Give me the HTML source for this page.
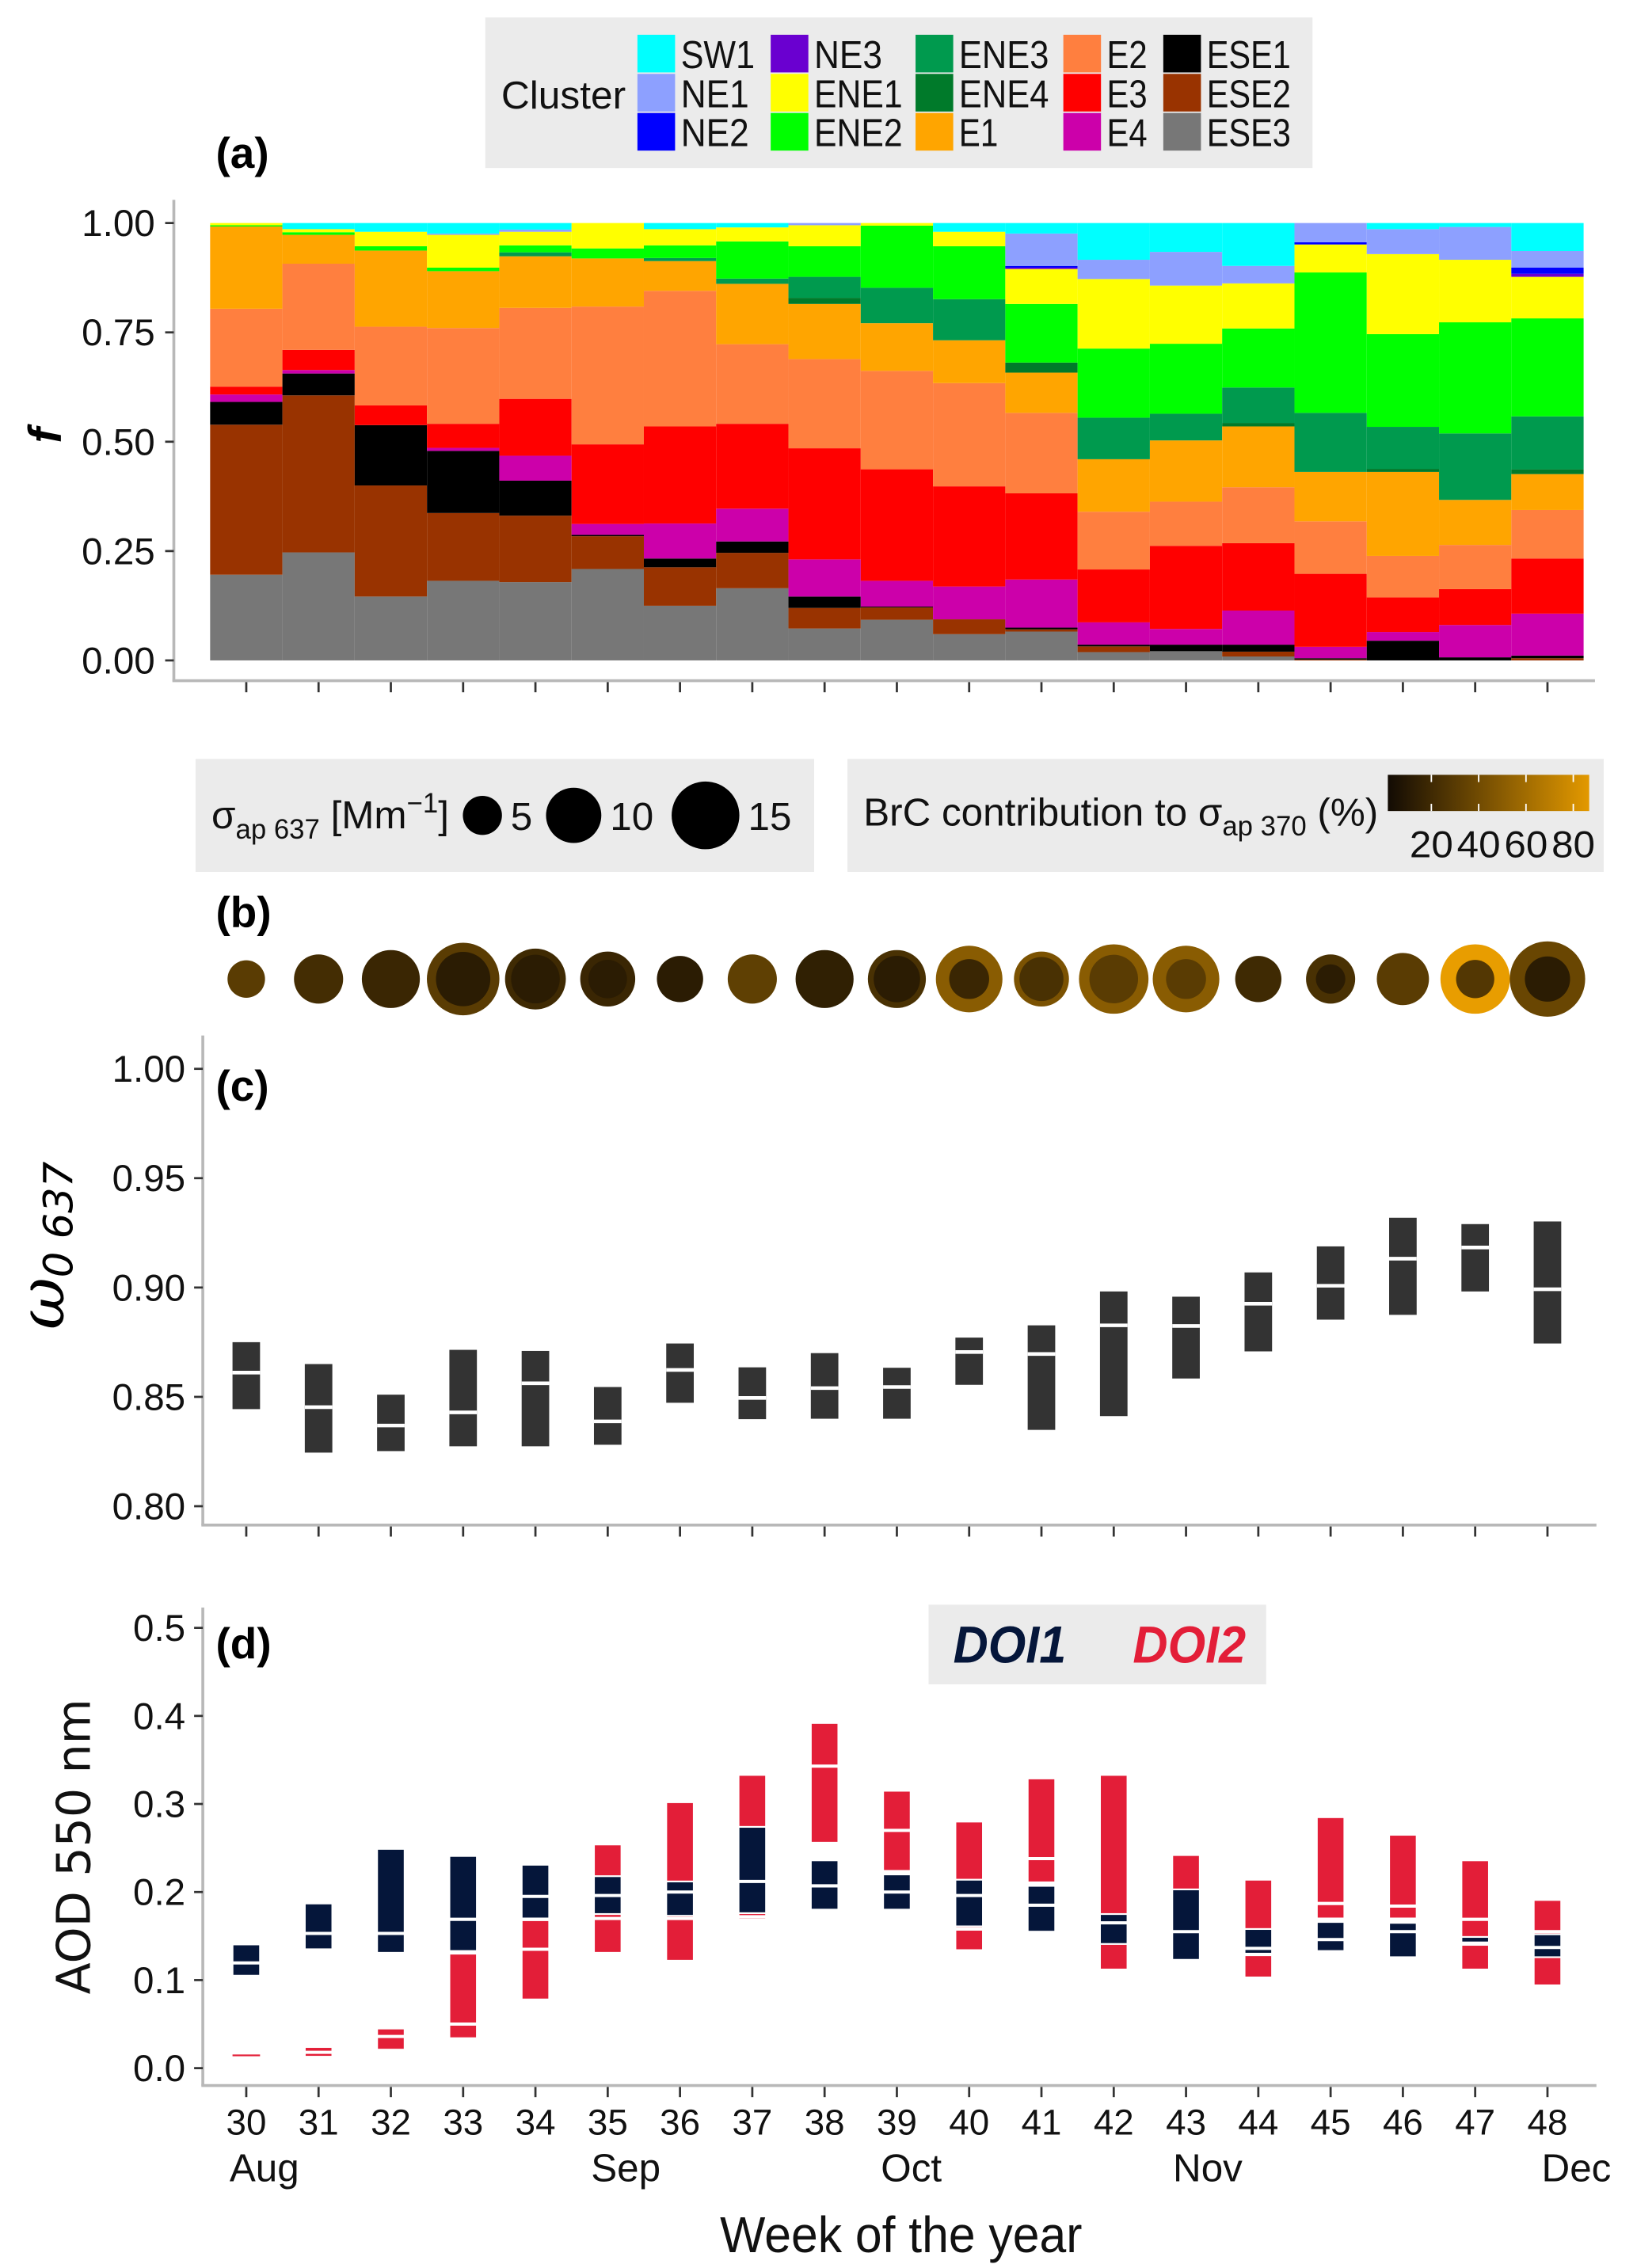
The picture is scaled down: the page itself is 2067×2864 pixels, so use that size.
<!DOCTYPE html>
<html><head><meta charset="utf-8"><title>Weekly cluster fractions, BrC, SSA, AOD</title>
<style>
html,body{margin:0;padding:0;background:#fff;}
svg{display:block;font-family:"Liberation Sans Narrow","Liberation Sans",sans-serif;}
</style></head>
<body>
<svg id="fig" width="2067" height="2864" viewBox="0 0 1130 1566" preserveAspectRatio="none" xmlns="http://www.w3.org/2000/svg">
<rect x="0" y="0" width="1130" height="1566" fill="#fff"/>
<g id="pa"></g>
<g id="pb"></g>
<g id="pc"></g>
<g id="pd"></g>
</svg>
<script>
// ---------- shared data ----------
const weeks = [30,31,32,33,34,35,36,37,38,39,40,41,42,43,44,45,46,47,48];
// ---------- panel a data (fractions per cluster, bottom to top) ----------
const clusterNames = ["ESE3","ESE2","ESE1","E4","E3","E2","E1","ENE4","ENE3","ENE2","ENE1","NE3","NE2","NE1","SW1"];
const clusterColors = ["#777777","#993300","#000000","#CC00AA","#FF0000","#FF7F3F","#FFA500","#007A2A","#009A4E","#00FF00","#FFFF00","#6A00D0","#0000FF","#8DA0FF","#00FFFF"];
const fESE3 = [.196,.247,.146,.182,.179,.209,.125,.165,.073,.093,.060,.066,.019,.021,.009,0,0,0,0];
const fESE2 = [.343,.359,.254,.155,.152,.075,.088,.081,.047,.028,.034,.005,.013,0,.011,.002,0,0,.005];
const fESE1 = [.052,.050,.138,.142,.080,.003,.020,.026,.026,.002,0,.004,.004,.015,.016,.003,.045,.007,.006];
const fE4 = [.017,.008,0,.007,.057,.025,.080,.075,.085,.059,.075,.110,.051,.036,.078,.026,.020,.074,.096];
const fE3 = [.018,.046,.045,.055,.130,.182,.222,.194,.254,.255,.229,.197,.121,.190,.154,.167,.079,.082,.126];
const fE2 = [.178,.197,.180,.219,.208,.315,.310,.182,.204,.225,.236,.184,.132,.101,.128,.120,.095,.101,.111];
const fE1 = [.188,.066,.174,.130,.118,.110,.068,.138,.126,.109,.098,.092,.120,.140,.139,.113,.192,.103,.082];
const fENE4 = [0,0,0,0,0,0,0,0,.014,0,0,.023,0,0,.008,0,.007,0,.011];
const fENE3 = [0,0,0,0,.009,0,.007,.012,.048,.081,.094,0,.095,.061,.081,.135,.096,.152,.121];
const fENE2 = [.003,.006,.010,.008,.016,.023,.029,.085,.070,.142,.121,.134,.158,.160,.135,.321,.212,.254,.224];
const fENE1 = [.005,.007,.033,.075,.031,.058,.037,.032,.048,.006,.033,.080,.159,.133,.103,.064,.183,.143,.095];
const fNE3 = [0,0,0,0,0,0,0,0,0,0,0,.003,0,0,0,0,0,0,.007];
const fNE2 = [0,0,0,0,0,0,0,0,0,0,0,.004,0,0,0,.005,0,0,.014];
const fNE1 = [0,0,0,.003,.005,0,0,0,.005,0,0,.074,.044,.077,.040,.044,.057,.075,.038];
const fSW1 = [0,.014,.020,.024,.015,0,.014,.010,0,0,.020,.024,.084,.066,.098,0,.014,.009,.064];
const aTicks = [0,0.25,0.5,0.75,1];
const aTickLabels = ["0.00","0.25","0.50","0.75","1.00"];
// ---------- panel b data ----------
const sigmaAp = [4.6,7.9,11,17.2,12.1,9.9,7,7.9,11,11,14.5,9.9,15.8,14.5,7,7.9,8.9,15.8,18.6];
const brcOuter = [31,22,18,31,20,18,12,33,14,24,50,44,50,50,20,24,31,88,37];
const brcInner = [31,22,18,12,12,12,12,33,14,12,18,24,31,31,20,12,31,28,12];
const innerFrac = [0,0,0,.75,.8,.7,0,0,.85,.8,.6,.8,.7,.6,0,.6,0,.55,.6];
const sizeLegendVals = [5,10,15];
const brcTickVals = [20,40,60,80];
// ---------- panel c data ----------
const ssaTop = [.875,.865,.851,.8715,.871,.8545,.8744,.8635,.870,.8633,.8771,.8827,.8982,.8958,.9069,.9188,.9319,.929,.9302];
const ssaMed = [.8611,.8453,.8369,.8429,.8562,.8388,.8623,.8495,.854,.8545,.8705,.8696,.8827,.8824,.8926,.9008,.9132,.9183,.8992];
const ssaBot = [.8444,.8245,.8252,.8274,.8274,.8281,.8473,.8398,.840,.840,.8555,.8349,.8412,.8584,.8708,.8853,.8875,.8982,.8744];
const cTicks = [0.80,0.85,0.90,0.95,1.00];
const cTickLabels = ["0.80","0.85","0.90","0.95","1.00"];
// ---------- panel d data ----------
const doi1Top = [.1405,.187,.249,.241,.231,.218,.212,.274,.236,.220,.214,.207,.175,.203,.158,.166,.165,.149,.152];
const doi1Med = [.1195,.153,.153,.169,.195,.196,.200,.212,.207,.200,.196,.185,.165,.155,.136,.146,.155,.142,.137];
const doi1Bot = [.105,.135,.131,.133,.170,.175,.173,.176,.180,.180,.161,.155,.141,.123,.130,.133,.126,.140,.126];
const doi2Top = [.0155,.024,.045,.130,.168,.254,.302,.333,.392,.315,.280,.329,.333,.242,.214,.285,.265,.236,.191];
const doi2Med = [.0147,.018,.036,.050,.135,.170,.170,.172,.343,.270,.158,.238,.160,.180,.129,.187,.184,.169,.155];
const doi2Bot = [.014,.013,.021,.034,.078,.131,.122,.169,.256,.224,.134,.211,.112,.180,.103,.170,.170,.112,.094];
const dTicks = [0,0.1,0.2,0.3,0.4,0.5];
const dTickLabels = ["0.0","0.1","0.2","0.3","0.4","0.5"];
const monthLabels = ["Aug","Sep","Oct","Nov","Dec"];
const monthWeekPos = [30.25,35.25,39.2,43.3,48.4];

// ---------- helpers ----------
const NS = "http://www.w3.org/2000/svg";
function mk(parent, tag, attrs, text){
  const e = document.createElementNS(NS, tag);
  for (const k in attrs) e.setAttribute(k, attrs[k]);
  if (text !== undefined) e.textContent = text;
  parent.appendChild(e);
  return e;
}
const xw = w => 170 + (w - 30) * 49.9;
const ya = v => 456 - v * 302;
const yc = v => 738 + (1 - v) * 1510;
const yd = v => 1428 - v * 608;
const AX = "#b8b8b8";

// ================= PANEL A =================
const pa = document.getElementById("pa");
const fracs = [fESE3,fESE2,fESE1,fE4,fE3,fE2,fE1,fENE4,fENE3,fENE2,fENE1,fNE3,fNE2,fNE1,fSW1];
weeks.forEach((w, i) => {
  let cum = 0;
  fracs.forEach((arr, k) => {
    const v = arr[i];
    if (v <= 0) { return; }
    const r = mk(pa, "rect", {x: xw(w) - 24.95, y: ya(cum + v), width: 49.9, height: v * 302, fill: clusterColors[k]});
    
    
    cum += v;
  });
});
mk(pa, "line", {x1:120, y1:138, x2:120, y2:470, stroke:AX, "stroke-width":2,  });
mk(pa, "line", {x1:119, y1:470, x2:1101, y2:470, stroke:AX, "stroke-width":2,  });
aTicks.forEach((t, i) => {
  const l = mk(pa, "line", {x1:114, y1:ya(t), x2:120, y2:ya(t), stroke:"#333", "stroke-width":1.5});
  
  
  const tx = mk(pa, "text", {x:107, y:ya(t) + 9, "text-anchor":"end", "font-size":26, fill:"#111"}, aTickLabels[i]);
  
  
});
weeks.forEach(w => {
  const l = mk(pa, "line", {x1:xw(w), y1:471, x2:xw(w), y2:478, stroke:"#333", "stroke-width":1.5});
  
  
});
mk(pa, "text", {x:0, y:0, "font-size":32, "font-style":"italic", "font-weight":"bold", transform:"translate(42,306) rotate(-90)",  }, "f");
mk(pa, "text", {x:149, y:116, "font-size":30, "font-weight":"bold",  }, "(a)");
// legend
const lg = mk(pa, "g", { });
mk(lg, "rect", {x:335, y:12, width:571, height:104, fill:"#ebebeb"});
mk(lg, "text", {x:346, y:75, "font-size":27, fill:"#111", textLength:86, lengthAdjust:"spacingAndGlyphs",  }, "Cluster");
const legOrder = [["SW1","NE1","NE2"],["NE3","ENE1","ENE2"],["ENE3","ENE4","E1"],["E2","E3","E4"],["ESE1","ESE2","ESE3"]];
const legX = [440,532,632,734,803];
const legLen = {SW1:51,NE1:47,NE2:47,NE3:47,ENE1:61,ENE2:61,ENE3:62,ENE4:62,E1:27,E2:28,E3:28,E4:28,ESE1:58,ESE2:58,ESE3:58};
legOrder.forEach((col, ci) => {
  col.forEach((nm, ri) => {
    const k = clusterNames.indexOf(nm);
    const y0 = 24 + ri * 27;
    const g = mk(lg, "g", {});
    
    
    mk(g, "rect", {x:legX[ci], y:y0, width:26, height:26, fill:clusterColors[k]});
    mk(g, "text", {x:legX[ci] + 30, y:y0 + 23, "font-size":27, fill:"#111", textLength:legLen[nm], lengthAdjust:"spacingAndGlyphs"}, nm);
  });
});

// ================= PANEL B =================
const pb = document.getElementById("pb");
function brcColor(p){
  const t = Math.max(0, Math.min(1, p / 90));
  const a = [13,8,4], b = [237,160,0];
  return "rgb(" + a.map((c, j) => Math.round(c + (b[j] - c) * t)).join(",") + ")";
}
const dia = v => 12.07 * Math.sqrt(v);
weeks.forEach((w, i) => {
  const g = mk(pb, "g", {});
  
  
  const r = dia(sigmaAp[i]) / 2;
  mk(g, "circle", {cx:xw(w), cy:676, r:r, fill:brcColor(brcOuter[i])});
  if (innerFrac[i] > 0) {
    mk(g, "circle", {cx:xw(w), cy:676, r:r * innerFrac[i], fill:brcColor(brcInner[i])});
  }
});
mk(pb, "text", {x:149, y:640, "font-size":30, "font-weight":"bold",  }, "(b)");
// size legend
const sl = mk(pb, "g", { });
mk(sl, "rect", {x:135, y:524, width:427, height:78, fill:"#ebebeb"});
const slt = mk(sl, "text", {x:146, y:572, "font-size":27, fill:"#111"});
slt.innerHTML = 'σ<tspan font-size="19" dy="7">ap 637</tspan><tspan dy="-7"> [Mm</tspan><tspan font-size="19" dy="-11">−1</tspan><tspan dy="11">]</tspan>';
const slX = [333,396,487];
sizeLegendVals.forEach((v, i) => {
  const c = mk(sl, "circle", {cx:slX[i], cy:563, r:dia(v) / 2, fill:"#000"});
  
  
  const t = mk(sl, "text", {x:slX[i] + dia(v) / 2 + 6, y:573, "font-size":27, fill:"#111"}, String(v));
  
  
});
// colour legend
const cl = mk(pb, "g", { });
mk(cl, "rect", {x:585, y:524, width:522, height:78, fill:"#ebebeb"});
const clt = mk(cl, "text", {x:596, y:570, "font-size":27, fill:"#111"});
clt.innerHTML = 'BrC contribution to σ<tspan font-size="19" dy="7">ap 370</tspan><tspan dy="-7"> (%)</tspan>';
const defs = mk(pb, "defs", {});
const lgd = mk(defs, "linearGradient", {id:"brcgrad", x1:"0", x2:"1", y1:"0", y2:"0"});
mk(lgd, "stop", {offset:"0", "stop-color":brcColor(2)});
mk(lgd, "stop", {offset:"0.5", "stop-color":brcColor(44)});
mk(lgd, "stop", {offset:"1", "stop-color":brcColor(86)});
mk(cl, "rect", {x:958, y:535, width:139, height:25, fill:"url(#brcgrad)",  });
const cbx = p => 958 + (p - 1.6) * 1.633;
brcTickVals.forEach(v => {
  mk(cl, "line", {x1:cbx(v), y1:535, x2:cbx(v), y2:540, stroke:"#fff", "stroke-width":1});
  mk(cl, "line", {x1:cbx(v), y1:555, x2:cbx(v), y2:560, stroke:"#fff", "stroke-width":1});
  const t = mk(cl, "text", {x:cbx(v), y:592, "font-size":26, "text-anchor":"middle", fill:"#111", textLength:30, lengthAdjust:"spacingAndGlyphs"}, String(v));
  
  
});

// ================= PANEL C =================
const pc = document.getElementById("pc");
weeks.forEach((w, i) => {
  const g = mk(pc, "g", {});
  
  
  mk(g, "rect", {x:xw(w) - 9.5, y:yc(ssaTop[i]), width:19, height:yc(ssaBot[i]) - yc(ssaTop[i]), fill:"#333333"});
  mk(g, "line", {x1:xw(w) - 9.5, y1:yc(ssaMed[i]), x2:xw(w) + 9.5, y2:yc(ssaMed[i]), stroke:"#fff", "stroke-width":2.5});
});
mk(pc, "line", {x1:140, y1:715, x2:140, y2:1053, stroke:AX, "stroke-width":2,  });
mk(pc, "line", {x1:139, y1:1053, x2:1102, y2:1053, stroke:AX, "stroke-width":2,  });
cTicks.forEach((t, i) => {
  const l = mk(pc, "line", {x1:134, y1:yc(t), x2:140, y2:yc(t), stroke:"#333", "stroke-width":1.5});
  
  
  const tx = mk(pc, "text", {x:128, y:yc(t) + 9, "text-anchor":"end", "font-size":26, fill:"#111"}, cTickLabels[i]);
  
  
});
weeks.forEach(w => {
  const l = mk(pc, "line", {x1:xw(w), y1:1054, x2:xw(w), y2:1061, stroke:"#333", "stroke-width":1.5});
  
  
});
const cyt = mk(pc, "text", {x:0, y:0, "font-size":44, "font-style":"italic", "font-family":"'DejaVu Serif',serif", transform:"translate(44,918) rotate(-90)",  });
cyt.innerHTML = 'ω<tspan font-size="28" dy="6" font-family="DejaVu Sans, sans-serif">0 637</tspan>';
mk(pc, "text", {x:149, y:760, "font-size":30, "font-weight":"bold",  }, "(c)");

// ================= PANEL D =================
const pd = document.getElementById("pd");
const RED = "#E31E38", NAVY = "#05163A";
function drawBox(parent, w, top, med, bot, col, name){
  const g = mk(parent, "g", {});
  
  
  const raw = yd(bot) - yd(top);
  const tiny = raw < 3;
  const h = Math.max(1.2, raw);
  mk(g, "rect", {x:xw(w) - 9.5, y:yd(top), width:19, height:h, fill:col, stroke:tiny ? "none" : "#fff", "stroke-width":1.2});
  if (!tiny) {
    mk(g, "line", {x1:xw(w) - 9.5, y1:yd(med), x2:xw(w) + 9.5, y2:yd(med), stroke:"#fff", "stroke-width":2.2});
  }
}
weeks.forEach((w, i) => drawBox(pd, w, doi2Top[i], doi2Med[i], doi2Bot[i], RED, 'doi2-box-w' + w));
weeks.forEach((w, i) => drawBox(pd, w, doi1Top[i], doi1Med[i], doi1Bot[i], NAVY, 'doi1-box-w' + w));
mk(pd, "line", {x1:140, y1:1110, x2:140, y2:1440, stroke:AX, "stroke-width":2,  });
mk(pd, "line", {x1:139, y1:1440, x2:1102, y2:1440, stroke:AX, "stroke-width":2,  });
dTicks.forEach((t, i) => {
  const l = mk(pd, "line", {x1:134, y1:yd(t), x2:140, y2:yd(t), stroke:"#333", "stroke-width":1.5});
  
  
  const tx = mk(pd, "text", {x:128, y:yd(t) + 9, "text-anchor":"end", "font-size":26, fill:"#111"}, dTickLabels[i]);
  
  
});
weeks.forEach(w => {
  const l = mk(pd, "line", {x1:xw(w), y1:1441, x2:xw(w), y2:1448, stroke:"#333", "stroke-width":1.5});
  
  
  const t = mk(pd, "text", {x:xw(w), y:1474, "text-anchor":"middle", "font-size":25, fill:"#111"}, String(w));
  
  
});
monthLabels.forEach((m, i) => {
  const t = mk(pd, "text", {x:xw(monthWeekPos[i]), y:1506, "text-anchor":"middle", "font-size":27, fill:"#111"}, m);
  
  
});
mk(pd, "text", {x:622, y:1555, "text-anchor":"middle", "font-size":35, fill:"#111", textLength:250, lengthAdjust:"spacingAndGlyphs",  }, "Week of the year");
mk(pd, "text", {x:0, y:0, "font-size":32, "font-family":"'DejaVu Sans',sans-serif", "text-anchor":"middle", fill:"#111", transform:"translate(62,1275) rotate(-90)",  }, "AOD 550 nm");
mk(pd, "text", {x:149, y:1145, "font-size":30, "font-weight":"bold",  }, "(d)");
const dl = mk(pd, "g", { });
mk(dl, "rect", {x:641, y:1108, width:233, height:55, fill:"#ebebeb"});
mk(dl, "text", {x:658, y:1148, "font-size":36, "font-weight":"bold", "font-style":"italic", fill:NAVY, textLength:78, lengthAdjust:"spacingAndGlyphs",  }, "DOI1");
mk(dl, "text", {x:782, y:1148, "font-size":36, "font-weight":"bold", "font-style":"italic", fill:RED, textLength:78, lengthAdjust:"spacingAndGlyphs",  }, "DOI2");
</script>
</body></html>
